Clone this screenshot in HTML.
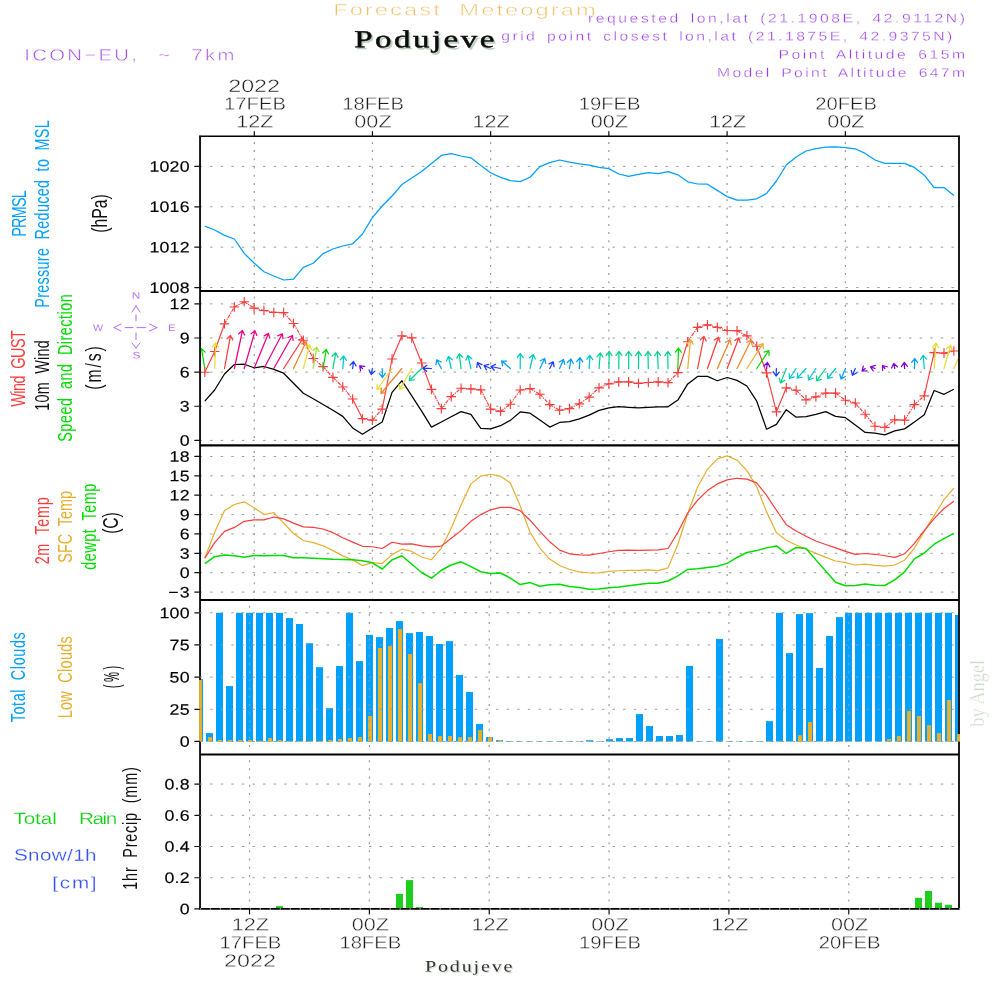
<!DOCTYPE html>
<html><head><meta charset="utf-8"><title>Forecast Meteogram Podujeve</title>
<style>html,body{margin:0;padding:0;background:#fff}svg{display:block}</style></head>
<body>
<svg width="1000" height="1000" viewBox="0 0 1000 1000">
<rect width="1000" height="1000" fill="#fff"/>
<defs>
<clipPath id="cp0"><rect x="199.05" y="136.25" width="760.95" height="154.70"/></clipPath>
<clipPath id="cp1"><rect x="199.05" y="290.95" width="760.95" height="154.40"/></clipPath>
<clipPath id="cp2"><rect x="199.05" y="445.35" width="760.95" height="154.65"/></clipPath>
<clipPath id="cp3"><rect x="199.05" y="600.00" width="760.95" height="154.50"/></clipPath>
<clipPath id="cp4"><rect x="199.05" y="754.50" width="760.95" height="154.45"/></clipPath>
<clipPath id="cpin1"><rect x="200.05" y="290.95" width="757.95" height="154.40"/></clipPath>
</defs>
<line x1="199.55" y1="166.40" x2="958.00" y2="166.40" stroke="#9a9a9a" stroke-width="1" stroke-dasharray="2.4 8.19"/>
<line x1="199.55" y1="206.78" x2="958.00" y2="206.78" stroke="#9a9a9a" stroke-width="1" stroke-dasharray="2.4 8.19"/>
<line x1="199.55" y1="247.17" x2="958.00" y2="247.17" stroke="#9a9a9a" stroke-width="1" stroke-dasharray="2.4 8.19"/>
<line x1="199.55" y1="287.55" x2="958.00" y2="287.55" stroke="#9a9a9a" stroke-width="1" stroke-dasharray="2.4 8.19"/>
<line x1="254.30" y1="141.90" x2="254.30" y2="289.95" stroke="#9a9a9a" stroke-width="1.2" stroke-dasharray="2 6.2"/>
<line x1="372.45" y1="141.90" x2="372.45" y2="289.95" stroke="#9a9a9a" stroke-width="1.2" stroke-dasharray="2 6.2"/>
<line x1="490.65" y1="141.90" x2="490.65" y2="289.95" stroke="#9a9a9a" stroke-width="1.2" stroke-dasharray="2 6.2"/>
<line x1="608.85" y1="141.90" x2="608.85" y2="289.95" stroke="#9a9a9a" stroke-width="1.2" stroke-dasharray="2 6.2"/>
<line x1="727.10" y1="141.90" x2="727.10" y2="289.95" stroke="#9a9a9a" stroke-width="1.2" stroke-dasharray="2 6.2"/>
<line x1="845.35" y1="141.90" x2="845.35" y2="289.95" stroke="#9a9a9a" stroke-width="1.2" stroke-dasharray="2 6.2"/>
<polyline points="204.80,226.20 214.66,230.00 224.51,235.40 234.37,239.00 244.22,253.40 254.08,263.00 263.94,271.80 273.79,276.00 283.65,280.00 293.50,279.20 303.36,267.40 313.22,263.20 323.07,253.60 332.93,249.00 342.78,246.00 352.64,243.80 362.50,234.00 372.35,217.60 382.21,206.00 392.06,196.00 401.92,184.60 411.78,178.00 421.63,171.60 431.49,163.40 441.34,155.40 451.20,153.60 461.06,156.00 470.91,157.80 480.77,165.60 490.62,172.80 500.48,177.40 510.34,180.60 520.19,181.60 530.05,177.20 539.90,166.60 549.76,162.60 559.62,160.00 569.47,162.20 579.33,163.80 589.18,165.20 599.04,167.40 608.90,168.60 618.75,174.00 628.61,176.40 638.46,174.40 648.32,172.60 658.18,173.60 668.03,171.60 677.89,174.80 687.74,181.80 697.60,184.00 707.46,184.20 717.31,190.40 727.17,196.60 737.02,200.20 746.88,200.20 756.74,198.80 766.59,193.40 776.45,181.00 786.30,165.00 796.16,157.00 806.02,151.00 815.87,148.60 825.73,147.20 835.58,146.80 845.44,147.60 855.30,148.80 865.15,153.40 875.01,160.00 884.86,163.40 894.72,163.40 904.58,163.40 914.43,167.40 924.29,175.20 934.14,187.60 944.00,187.60 953.86,195.40" fill="none" stroke="#00a0ff" stroke-width="1.25" stroke-linejoin="round" clip-path="url(#cp0)"/>
<line x1="199.55" y1="440.40" x2="958.00" y2="440.40" stroke="#9a9a9a" stroke-width="1" stroke-dasharray="2.4 8.19"/>
<line x1="199.55" y1="406.26" x2="958.00" y2="406.26" stroke="#9a9a9a" stroke-width="1" stroke-dasharray="2.4 8.19"/>
<line x1="199.55" y1="372.13" x2="958.00" y2="372.13" stroke="#9a9a9a" stroke-width="1" stroke-dasharray="2.4 8.19"/>
<line x1="199.55" y1="337.99" x2="958.00" y2="337.99" stroke="#9a9a9a" stroke-width="1" stroke-dasharray="2.4 8.19"/>
<line x1="199.55" y1="303.85" x2="958.00" y2="303.85" stroke="#9a9a9a" stroke-width="1" stroke-dasharray="2.4 8.19"/>
<line x1="254.30" y1="296.60" x2="254.30" y2="444.35" stroke="#9a9a9a" stroke-width="1.2" stroke-dasharray="2 6.2"/>
<line x1="372.45" y1="296.60" x2="372.45" y2="444.35" stroke="#9a9a9a" stroke-width="1.2" stroke-dasharray="2 6.2"/>
<line x1="490.65" y1="296.60" x2="490.65" y2="444.35" stroke="#9a9a9a" stroke-width="1.2" stroke-dasharray="2 6.2"/>
<line x1="608.85" y1="296.60" x2="608.85" y2="444.35" stroke="#9a9a9a" stroke-width="1.2" stroke-dasharray="2 6.2"/>
<line x1="727.10" y1="296.60" x2="727.10" y2="444.35" stroke="#9a9a9a" stroke-width="1.2" stroke-dasharray="2 6.2"/>
<line x1="845.35" y1="296.60" x2="845.35" y2="444.35" stroke="#9a9a9a" stroke-width="1.2" stroke-dasharray="2 6.2"/>
<g clip-path="url(#cpin1)">
<polyline points="204.80,401.20 214.66,390.00 224.51,374.00 234.37,364.56 244.22,364.24 254.08,367.76 263.94,366.48 273.79,369.36 283.65,373.20 293.50,383.28 303.36,393.20 313.22,398.80 323.07,404.56 332.93,410.32 342.78,416.40 352.64,427.92 362.50,434.32 372.35,427.92 382.21,422.00 392.06,392.40 401.92,380.72 411.78,395.92 421.63,411.12 431.49,427.12 441.34,422.00 451.20,416.72 461.06,411.60 470.91,414.32 480.77,428.40 490.62,428.88 500.48,425.68 510.34,420.40 520.19,411.92 530.05,413.20 539.90,419.92 549.76,427.12 559.62,422.48 569.47,421.68 579.33,418.80 589.18,415.12 599.04,410.32 608.90,407.92 618.75,406.64 628.61,407.28 638.46,407.92 648.32,407.28 658.18,406.80 668.03,406.80 677.89,400.08 687.74,383.92 697.60,376.40 707.46,376.40 717.31,380.72 727.17,377.52 737.02,380.40 746.88,386.00 756.74,401.20 766.59,429.20 776.45,424.40 786.30,409.68 796.16,417.20 806.02,416.72 815.87,414.32 825.73,411.60 835.58,416.40 845.44,417.68 855.30,424.88 865.15,432.40 875.01,433.20 884.86,434.80 894.72,430.80 904.58,428.88 914.43,422.00 924.29,414.80 934.14,390.48 944.00,394.32 953.86,389.20" fill="none" stroke="#000" stroke-width="1.25" stroke-linejoin="round"/>
<path d="M204.80 372.28L214.66 351.48M214.66 351.48L224.51 323.80M352.64 399.00L362.50 418.68M382.21 409.08L392.06 359.00M392.06 359.00L401.92 335.80M411.78 337.88L421.63 363.00M421.63 363.00L431.49 389.40M677.89 372.60L687.74 341.72M756.74 346.20L766.59 372.92M766.59 372.92L776.45 411.80M776.45 411.80L786.30 387.80M924.29 395.80L934.14 352.60" fill="none" stroke="#fa3c3c" stroke-width="1.15"/>
<path d="M224.51 323.80L234.37 307.00M234.37 307.00L244.22 301.72M244.22 301.72L254.08 308.12M254.08 308.12L263.94 310.52M263.94 310.52L273.79 312.44M273.79 312.44L283.65 312.60M283.65 312.60L293.50 323.48M293.50 323.48L303.36 340.28M303.36 340.28L313.22 358.52M313.22 358.52L323.07 366.68M323.07 366.68L332.93 377.40M332.93 377.40L342.78 387.00M342.78 387.00L352.64 399.00M362.50 418.68L372.35 420.12M372.35 420.12L382.21 409.08M401.92 335.80L411.78 337.88M431.49 389.40L441.34 408.60M441.34 408.60L451.20 396.60M451.20 396.60L461.06 388.28M461.06 388.28L470.91 388.92M470.91 388.92L480.77 389.88M480.77 389.88L490.62 409.08M490.62 409.08L500.48 411.32M500.48 411.32L510.34 404.28M510.34 404.28L520.19 390.04M520.19 390.04L530.05 388.60M530.05 388.60L539.90 394.20M539.90 394.20L549.76 404.60M549.76 404.60L559.62 410.20M559.62 410.20L569.47 408.60M569.47 408.60L579.33 403.80M579.33 403.80L589.18 397.08M589.18 397.08L599.04 387.80M599.04 387.80L608.90 383.80M608.90 383.80L618.75 381.88M618.75 381.88L628.61 381.88M628.61 381.88L638.46 383.32M638.46 383.32L648.32 382.52M648.32 382.52L658.18 381.88M658.18 381.88L668.03 382.68M668.03 382.68L677.89 372.60M687.74 341.72L697.60 327.32M697.60 327.32L707.46 324.92M707.46 324.92L717.31 327.32M717.31 327.32L727.17 330.52M727.17 330.52L737.02 330.68M737.02 330.68L746.88 335.80M746.88 335.80L756.74 346.20M786.30 387.80L796.16 390.20M796.16 390.20L806.02 399.80M806.02 399.80L815.87 396.92M815.87 396.92L825.73 393.08M825.73 393.08L835.58 393.08M835.58 393.08L845.44 400.28M845.44 400.28L855.30 403.00M855.30 403.00L865.15 414.20M865.15 414.20L875.01 426.20M875.01 426.20L884.86 427.48M884.86 427.48L894.72 419.80M894.72 419.80L904.58 420.12M904.58 420.12L914.43 404.60M914.43 404.60L924.29 395.80M934.14 352.60L944.00 353.08M944.00 353.08L953.86 351.00" fill="none" stroke="#fa3c3c" stroke-width="1.15" stroke-dasharray="3.7 1 1.3 1"/>
<path d="M200.00 372.28h9.6M204.80 367.48v9.6M209.86 351.48h9.6M214.66 346.68v9.6M219.71 323.80h9.6M224.51 319.00v9.6M229.57 307.00h9.6M234.37 302.20v9.6M239.42 301.72h9.6M244.22 296.92v9.6M249.28 308.12h9.6M254.08 303.32v9.6M259.14 310.52h9.6M263.94 305.72v9.6M268.99 312.44h9.6M273.79 307.64v9.6M278.85 312.60h9.6M283.65 307.80v9.6M288.70 323.48h9.6M293.50 318.68v9.6M298.56 340.28h9.6M303.36 335.48v9.6M308.42 358.52h9.6M313.22 353.72v9.6M318.27 366.68h9.6M323.07 361.88v9.6M328.13 377.40h9.6M332.93 372.60v9.6M337.98 387.00h9.6M342.78 382.20v9.6M347.84 399.00h9.6M352.64 394.20v9.6M357.70 418.68h9.6M362.50 413.88v9.6M367.55 420.12h9.6M372.35 415.32v9.6M377.41 409.08h9.6M382.21 404.28v9.6M387.26 359.00h9.6M392.06 354.20v9.6M397.12 335.80h9.6M401.92 331.00v9.6M406.98 337.88h9.6M411.78 333.08v9.6M416.83 363.00h9.6M421.63 358.20v9.6M426.69 389.40h9.6M431.49 384.60v9.6M436.54 408.60h9.6M441.34 403.80v9.6M446.40 396.60h9.6M451.20 391.80v9.6M456.26 388.28h9.6M461.06 383.48v9.6M466.11 388.92h9.6M470.91 384.12v9.6M475.97 389.88h9.6M480.77 385.08v9.6M485.82 409.08h9.6M490.62 404.28v9.6M495.68 411.32h9.6M500.48 406.52v9.6M505.54 404.28h9.6M510.34 399.48v9.6M515.39 390.04h9.6M520.19 385.24v9.6M525.25 388.60h9.6M530.05 383.80v9.6M535.10 394.20h9.6M539.90 389.40v9.6M544.96 404.60h9.6M549.76 399.80v9.6M554.82 410.20h9.6M559.62 405.40v9.6M564.67 408.60h9.6M569.47 403.80v9.6M574.53 403.80h9.6M579.33 399.00v9.6M584.38 397.08h9.6M589.18 392.28v9.6M594.24 387.80h9.6M599.04 383.00v9.6M604.10 383.80h9.6M608.90 379.00v9.6M613.95 381.88h9.6M618.75 377.08v9.6M623.81 381.88h9.6M628.61 377.08v9.6M633.66 383.32h9.6M638.46 378.52v9.6M643.52 382.52h9.6M648.32 377.72v9.6M653.38 381.88h9.6M658.18 377.08v9.6M663.23 382.68h9.6M668.03 377.88v9.6M673.09 372.60h9.6M677.89 367.80v9.6M682.94 341.72h9.6M687.74 336.92v9.6M692.80 327.32h9.6M697.60 322.52v9.6M702.66 324.92h9.6M707.46 320.12v9.6M712.51 327.32h9.6M717.31 322.52v9.6M722.37 330.52h9.6M727.17 325.72v9.6M732.22 330.68h9.6M737.02 325.88v9.6M742.08 335.80h9.6M746.88 331.00v9.6M751.94 346.20h9.6M756.74 341.40v9.6M761.79 372.92h9.6M766.59 368.12v9.6M771.65 411.80h9.6M776.45 407.00v9.6M781.50 387.80h9.6M786.30 383.00v9.6M791.36 390.20h9.6M796.16 385.40v9.6M801.22 399.80h9.6M806.02 395.00v9.6M811.07 396.92h9.6M815.87 392.12v9.6M820.93 393.08h9.6M825.73 388.28v9.6M830.78 393.08h9.6M835.58 388.28v9.6M840.64 400.28h9.6M845.44 395.48v9.6M850.50 403.00h9.6M855.30 398.20v9.6M860.35 414.20h9.6M865.15 409.40v9.6M870.21 426.20h9.6M875.01 421.40v9.6M880.06 427.48h9.6M884.86 422.68v9.6M889.92 419.80h9.6M894.72 415.00v9.6M899.78 420.12h9.6M904.58 415.32v9.6M909.63 404.60h9.6M914.43 399.80v9.6M919.49 395.80h9.6M924.29 391.00v9.6M929.34 352.60h9.6M934.14 347.80v9.6M939.20 353.08h9.6M944.00 348.28v9.6M949.06 351.00h9.6M953.86 346.20v9.6" fill="none" stroke="#fa3c3c" stroke-width="1.15"/>
<path d="M204.80 368.50L201.50 348.70L205.11 352.16M201.50 348.70L199.21 353.14" fill="none" stroke="#00dc00" stroke-width="1.25" stroke-linecap="round" stroke-linejoin="round"/>
<path d="M214.66 368.50L215.66 343.00L218.49 347.12M215.66 343.00L212.51 346.89" fill="none" stroke="#e6dc32" stroke-width="1.25" stroke-linecap="round" stroke-linejoin="round"/>
<path d="M224.51 368.50L230.51 335.50L232.74 339.98M230.51 335.50L226.85 338.91" fill="none" stroke="#fa3c3c" stroke-width="1.25" stroke-linecap="round" stroke-linejoin="round"/>
<path d="M234.37 368.50L242.47 330.50L244.56 335.04M242.47 330.50L238.71 333.79" fill="none" stroke="#f00082" stroke-width="1.25" stroke-linecap="round" stroke-linejoin="round"/>
<path d="M244.22 368.50L255.02 330.80L256.80 335.47M255.02 330.80L251.04 333.83" fill="none" stroke="#f00082" stroke-width="1.25" stroke-linecap="round" stroke-linejoin="round"/>
<path d="M254.08 368.50L268.48 333.30L269.73 338.14M268.48 333.30L264.19 335.87" fill="none" stroke="#f00082" stroke-width="1.25" stroke-linecap="round" stroke-linejoin="round"/>
<path d="M263.94 368.50L282.24 333.70L283.02 338.64M282.24 333.70L277.72 335.85" fill="none" stroke="#f00082" stroke-width="1.25" stroke-linecap="round" stroke-linejoin="round"/>
<path d="M273.79 368.50L292.49 335.50L293.12 340.46M292.49 335.50L287.91 337.51" fill="none" stroke="#f00082" stroke-width="1.25" stroke-linecap="round" stroke-linejoin="round"/>
<path d="M283.65 368.50L303.25 338.00L303.60 342.99M303.25 338.00L298.57 339.75" fill="none" stroke="#fa3c3c" stroke-width="1.25" stroke-linecap="round" stroke-linejoin="round"/>
<path d="M293.50 368.50L306.20 341.50L307.21 346.40M306.20 341.50L301.79 343.85" fill="none" stroke="#f08228" stroke-width="1.25" stroke-linecap="round" stroke-linejoin="round"/>
<path d="M303.36 368.50L309.66 345.00L311.51 349.64M309.66 345.00L305.73 348.09" fill="none" stroke="#e6dc32" stroke-width="1.25" stroke-linecap="round" stroke-linejoin="round"/>
<path d="M313.22 368.50L316.72 347.20L319.02 351.64M316.72 347.20L313.11 350.67" fill="none" stroke="#a0e632" stroke-width="1.25" stroke-linecap="round" stroke-linejoin="round"/>
<path d="M323.07 368.50L326.27 349.50L328.56 353.95M326.27 349.50L322.66 352.95" fill="none" stroke="#00dc00" stroke-width="1.25" stroke-linecap="round" stroke-linejoin="round"/>
<path d="M332.93 368.50L335.73 352.80L337.97 357.27M335.73 352.80L332.08 356.22" fill="none" stroke="#00d28c" stroke-width="1.25" stroke-linecap="round" stroke-linejoin="round"/>
<path d="M342.78 368.50L343.78 356.00L346.45 360.23M343.78 356.00L340.48 359.75" fill="none" stroke="#00c8c8" stroke-width="1.25" stroke-linecap="round" stroke-linejoin="round"/>
<path d="M352.64 368.50L353.54 361.50L356.00 365.85M353.54 361.50L350.06 365.09" fill="none" stroke="#1e3cff" stroke-width="1.25" stroke-linecap="round" stroke-linejoin="round"/>
<path d="M362.50 368.50L359.70 365.80L364.66 366.43M359.70 365.80L360.50 370.73" fill="none" stroke="#8200dc" stroke-width="1.25" stroke-linecap="round" stroke-linejoin="round"/>
<path d="M372.35 368.50L371.25 374.50L369.03 370.02M371.25 374.50L374.92 371.10" fill="none" stroke="#1e3cff" stroke-width="1.25" stroke-linecap="round" stroke-linejoin="round"/>
<path d="M382.21 368.50L382.51 377.50L379.38 373.60M382.51 377.50L385.37 373.40" fill="none" stroke="#00a0ff" stroke-width="1.25" stroke-linecap="round" stroke-linejoin="round"/>
<path d="M392.06 368.50L377.16 389.50L377.04 384.50M377.16 389.50L381.92 387.96" fill="none" stroke="#e6dc32" stroke-width="1.25" stroke-linecap="round" stroke-linejoin="round"/>
<path d="M401.92 368.50L381.02 393.50L381.29 388.51M381.02 393.50L385.89 392.35" fill="none" stroke="#f08228" stroke-width="1.25" stroke-linecap="round" stroke-linejoin="round"/>
<path d="M411.78 368.50L399.68 389.30L399.10 384.33M399.68 389.30L404.28 387.34" fill="none" stroke="#e6dc32" stroke-width="1.25" stroke-linecap="round" stroke-linejoin="round"/>
<path d="M421.63 368.50L409.33 380.50L410.11 375.56M409.33 380.50L414.29 379.84" fill="none" stroke="#00d28c" stroke-width="1.25" stroke-linecap="round" stroke-linejoin="round"/>
<path d="M431.49 368.50L422.79 368.20L426.89 365.35M422.79 368.20L426.69 371.33" fill="none" stroke="#1e3cff" stroke-width="1.25" stroke-linecap="round" stroke-linejoin="round"/>
<path d="M441.34 368.50L436.74 359.80L441.26 361.94M436.74 359.80L435.97 364.74" fill="none" stroke="#00a0ff" stroke-width="1.25" stroke-linecap="round" stroke-linejoin="round"/>
<path d="M451.20 368.50L448.50 356.50L452.30 359.75M448.50 356.50L446.46 361.06" fill="none" stroke="#00c8c8" stroke-width="1.25" stroke-linecap="round" stroke-linejoin="round"/>
<path d="M461.06 368.50L459.26 353.80L462.71 357.41M459.26 353.80L456.77 358.14" fill="none" stroke="#00d28c" stroke-width="1.25" stroke-linecap="round" stroke-linejoin="round"/>
<path d="M470.91 368.50L468.01 355.50L471.80 358.76M468.01 355.50L465.96 360.06" fill="none" stroke="#00c8c8" stroke-width="1.25" stroke-linecap="round" stroke-linejoin="round"/>
<path d="M480.77 368.50L477.47 362.50L482.02 364.57M477.47 362.50L476.78 367.45" fill="none" stroke="#1e3cff" stroke-width="1.25" stroke-linecap="round" stroke-linejoin="round"/>
<path d="M490.62 368.50L484.02 365.50L488.91 364.43M484.02 365.50L486.43 369.88" fill="none" stroke="#1e3cff" stroke-width="1.25" stroke-linecap="round" stroke-linejoin="round"/>
<path d="M500.48 368.50L490.98 366.50L495.52 364.40M490.98 366.50L494.28 370.25" fill="none" stroke="#1e3cff" stroke-width="1.25" stroke-linecap="round" stroke-linejoin="round"/>
<path d="M510.34 368.50L501.54 360.80L506.52 361.19M501.54 360.80L502.58 365.69" fill="none" stroke="#00a0ff" stroke-width="1.25" stroke-linecap="round" stroke-linejoin="round"/>
<path d="M520.19 368.50L520.29 353.50L523.26 357.53M520.29 353.50L517.27 357.49" fill="none" stroke="#00c8c8" stroke-width="1.25" stroke-linecap="round" stroke-linejoin="round"/>
<path d="M530.05 368.50L533.25 354.50L535.27 359.07M533.25 354.50L529.44 357.74" fill="none" stroke="#00c8c8" stroke-width="1.25" stroke-linecap="round" stroke-linejoin="round"/>
<path d="M539.90 368.50L544.80 358.50L545.73 363.41M544.80 358.50L540.35 360.78" fill="none" stroke="#00a0ff" stroke-width="1.25" stroke-linecap="round" stroke-linejoin="round"/>
<path d="M549.76 368.50L553.26 361.80L554.06 366.74M553.26 361.80L548.75 363.96" fill="none" stroke="#1e3cff" stroke-width="1.25" stroke-linecap="round" stroke-linejoin="round"/>
<path d="M559.62 368.50L563.52 359.50L564.67 364.37M563.52 359.50L559.18 361.99" fill="none" stroke="#00a0ff" stroke-width="1.25" stroke-linecap="round" stroke-linejoin="round"/>
<path d="M569.47 368.50L570.97 359.00L573.30 363.42M570.97 359.00L567.39 362.49" fill="none" stroke="#00a0ff" stroke-width="1.25" stroke-linecap="round" stroke-linejoin="round"/>
<path d="M579.33 368.50L580.03 357.70L582.76 361.89M580.03 357.70L576.78 361.50" fill="none" stroke="#00a0ff" stroke-width="1.25" stroke-linecap="round" stroke-linejoin="round"/>
<path d="M589.18 368.50L589.98 355.50L592.72 359.68M589.98 355.50L586.75 359.31" fill="none" stroke="#00c8c8" stroke-width="1.25" stroke-linecap="round" stroke-linejoin="round"/>
<path d="M599.04 368.50L600.34 352.80L602.99 357.04M600.34 352.80L597.03 356.55" fill="none" stroke="#00d28c" stroke-width="1.25" stroke-linecap="round" stroke-linejoin="round"/>
<path d="M608.90 368.50L609.20 351.50L612.12 355.56M609.20 351.50L606.13 355.45" fill="none" stroke="#00d28c" stroke-width="1.25" stroke-linecap="round" stroke-linejoin="round"/>
<path d="M618.75 368.50L618.95 351.30L621.90 355.34M618.95 351.30L615.91 355.27" fill="none" stroke="#00d28c" stroke-width="1.25" stroke-linecap="round" stroke-linejoin="round"/>
<path d="M628.61 368.50L628.81 351.50L631.75 355.54M628.81 351.50L625.77 355.47" fill="none" stroke="#00d28c" stroke-width="1.25" stroke-linecap="round" stroke-linejoin="round"/>
<path d="M638.46 368.50L638.66 351.50L641.61 355.54M638.66 351.50L635.62 355.47" fill="none" stroke="#00d28c" stroke-width="1.25" stroke-linecap="round" stroke-linejoin="round"/>
<path d="M648.32 368.50L647.92 351.50L651.01 355.43M647.92 351.50L645.02 355.57" fill="none" stroke="#00d28c" stroke-width="1.25" stroke-linecap="round" stroke-linejoin="round"/>
<path d="M658.18 368.50L657.48 351.50L660.63 355.38M657.48 351.50L654.65 355.63" fill="none" stroke="#00d28c" stroke-width="1.25" stroke-linecap="round" stroke-linejoin="round"/>
<path d="M668.03 368.50L667.73 351.50L670.79 355.45M667.73 351.50L664.81 355.56" fill="none" stroke="#00d28c" stroke-width="1.25" stroke-linecap="round" stroke-linejoin="round"/>
<path d="M677.89 368.50L678.49 348.20L681.36 352.29M678.49 348.20L675.38 352.12" fill="none" stroke="#00dc00" stroke-width="1.25" stroke-linecap="round" stroke-linejoin="round"/>
<path d="M687.74 368.50L690.54 339.80L693.13 344.08M690.54 339.80L687.18 343.50" fill="none" stroke="#e6af2d" stroke-width="1.25" stroke-linecap="round" stroke-linejoin="round"/>
<path d="M697.60 368.50L704.00 336.50L706.15 341.01M704.00 336.50L700.28 339.84" fill="none" stroke="#fa3c3c" stroke-width="1.25" stroke-linecap="round" stroke-linejoin="round"/>
<path d="M707.46 368.50L718.46 337.20L719.95 341.97M718.46 337.20L714.30 339.99" fill="none" stroke="#fa3c3c" stroke-width="1.25" stroke-linecap="round" stroke-linejoin="round"/>
<path d="M717.31 368.50L730.01 339.80L731.13 344.67M730.01 339.80L725.65 342.25" fill="none" stroke="#f08228" stroke-width="1.25" stroke-linecap="round" stroke-linejoin="round"/>
<path d="M727.17 368.50L738.87 337.80L740.24 342.61M738.87 337.80L734.65 340.48" fill="none" stroke="#fa3c3c" stroke-width="1.25" stroke-linecap="round" stroke-linejoin="round"/>
<path d="M737.02 368.50L751.22 340.00L752.12 344.92M751.22 340.00L746.76 342.25" fill="none" stroke="#f08228" stroke-width="1.25" stroke-linecap="round" stroke-linejoin="round"/>
<path d="M746.88 368.50L762.98 343.50L763.33 348.49M762.98 343.50L758.30 345.25" fill="none" stroke="#e6af2d" stroke-width="1.25" stroke-linecap="round" stroke-linejoin="round"/>
<path d="M756.74 368.50L768.84 350.50L769.08 355.49M768.84 350.50L764.12 352.16" fill="none" stroke="#00dc00" stroke-width="1.25" stroke-linecap="round" stroke-linejoin="round"/>
<path d="M766.59 368.50L767.49 362.50L769.86 366.91M767.49 362.50L763.94 366.02" fill="none" stroke="#8200dc" stroke-width="1.25" stroke-linecap="round" stroke-linejoin="round"/>
<path d="M776.45 368.50L776.05 376.00L773.27 371.84M776.05 376.00L779.25 372.16" fill="none" stroke="#1e3cff" stroke-width="1.25" stroke-linecap="round" stroke-linejoin="round"/>
<path d="M786.30 368.50L780.50 383.00L779.21 378.17M780.50 383.00L784.77 380.39" fill="none" stroke="#00d28c" stroke-width="1.25" stroke-linecap="round" stroke-linejoin="round"/>
<path d="M796.16 368.50L789.46 378.50L789.20 373.51M789.46 378.50L794.18 376.84" fill="none" stroke="#00c8c8" stroke-width="1.25" stroke-linecap="round" stroke-linejoin="round"/>
<path d="M806.02 368.50L797.22 378.20L797.69 373.22M797.22 378.20L802.12 377.24" fill="none" stroke="#00c8c8" stroke-width="1.25" stroke-linecap="round" stroke-linejoin="round"/>
<path d="M815.87 368.50L808.47 380.00L808.12 375.01M808.47 380.00L813.16 378.25" fill="none" stroke="#00c8c8" stroke-width="1.25" stroke-linecap="round" stroke-linejoin="round"/>
<path d="M825.73 368.50L816.53 380.80L816.53 375.80M816.53 380.80L821.32 379.38" fill="none" stroke="#00d28c" stroke-width="1.25" stroke-linecap="round" stroke-linejoin="round"/>
<path d="M835.58 368.50L827.48 378.50L827.68 373.50M827.48 378.50L832.33 377.27" fill="none" stroke="#00c8c8" stroke-width="1.25" stroke-linecap="round" stroke-linejoin="round"/>
<path d="M845.44 368.50L841.04 379.00L839.83 374.15M841.04 379.00L845.35 376.46" fill="none" stroke="#00a0ff" stroke-width="1.25" stroke-linecap="round" stroke-linejoin="round"/>
<path d="M855.30 368.50L852.50 375.30L851.25 370.46M852.50 375.30L856.79 372.74" fill="none" stroke="#1e3cff" stroke-width="1.25" stroke-linecap="round" stroke-linejoin="round"/>
<path d="M865.15 368.50L862.05 371.00L863.29 366.16M862.05 371.00L867.05 370.81" fill="none" stroke="#8200dc" stroke-width="1.25" stroke-linecap="round" stroke-linejoin="round"/>
<path d="M875.01 368.50L870.51 366.80L875.31 365.42M870.51 366.80L873.20 371.01" fill="none" stroke="#8200dc" stroke-width="1.25" stroke-linecap="round" stroke-linejoin="round"/>
<path d="M884.86 368.50L882.46 365.50L887.30 366.76M882.46 365.50L882.63 370.50" fill="none" stroke="#8200dc" stroke-width="1.25" stroke-linecap="round" stroke-linejoin="round"/>
<path d="M894.72 368.50L893.72 363.50L897.44 366.84M893.72 363.50L891.57 368.01" fill="none" stroke="#8200dc" stroke-width="1.25" stroke-linecap="round" stroke-linejoin="round"/>
<path d="M904.58 368.50L904.18 362.50L907.43 366.30M904.18 362.50L901.46 366.70" fill="none" stroke="#8200dc" stroke-width="1.25" stroke-linecap="round" stroke-linejoin="round"/>
<path d="M914.43 368.50L914.83 358.50L917.66 362.62M914.83 358.50L911.68 362.38" fill="none" stroke="#00a0ff" stroke-width="1.25" stroke-linecap="round" stroke-linejoin="round"/>
<path d="M924.29 368.50L923.19 355.30L926.50 359.04M923.19 355.30L920.54 359.54" fill="none" stroke="#00c8c8" stroke-width="1.25" stroke-linecap="round" stroke-linejoin="round"/>
<path d="M934.14 368.50L935.94 343.20L938.64 347.41M935.94 343.20L932.67 346.98" fill="none" stroke="#e6dc32" stroke-width="1.25" stroke-linecap="round" stroke-linejoin="round"/>
<path d="M944.00 368.50L950.50 345.50L952.29 350.17M950.50 345.50L946.53 348.54" fill="none" stroke="#e6dc32" stroke-width="1.25" stroke-linecap="round" stroke-linejoin="round"/>
<path d="M953.86 368.50L964.66 343.70L965.80 348.57M964.66 343.70L960.31 346.18" fill="none" stroke="#e6dc32" stroke-width="1.25" stroke-linecap="round" stroke-linejoin="round"/>
</g>
<line x1="199.55" y1="592.10" x2="958.00" y2="592.10" stroke="#9a9a9a" stroke-width="1" stroke-dasharray="2.4 8.19"/>
<line x1="199.55" y1="572.72" x2="958.00" y2="572.72" stroke="#9a9a9a" stroke-width="1" stroke-dasharray="2.4 8.19"/>
<line x1="199.55" y1="553.34" x2="958.00" y2="553.34" stroke="#9a9a9a" stroke-width="1" stroke-dasharray="2.4 8.19"/>
<line x1="199.55" y1="533.96" x2="958.00" y2="533.96" stroke="#9a9a9a" stroke-width="1" stroke-dasharray="2.4 8.19"/>
<line x1="199.55" y1="514.58" x2="958.00" y2="514.58" stroke="#9a9a9a" stroke-width="1" stroke-dasharray="2.4 8.19"/>
<line x1="199.55" y1="495.21" x2="958.00" y2="495.21" stroke="#9a9a9a" stroke-width="1" stroke-dasharray="2.4 8.19"/>
<line x1="199.55" y1="475.83" x2="958.00" y2="475.83" stroke="#9a9a9a" stroke-width="1" stroke-dasharray="2.4 8.19"/>
<line x1="199.55" y1="456.45" x2="958.00" y2="456.45" stroke="#9a9a9a" stroke-width="1" stroke-dasharray="2.4 8.19"/>
<line x1="254.30" y1="451.00" x2="254.30" y2="599.00" stroke="#9a9a9a" stroke-width="1.2" stroke-dasharray="2 6.2"/>
<line x1="372.45" y1="451.00" x2="372.45" y2="599.00" stroke="#9a9a9a" stroke-width="1.2" stroke-dasharray="2 6.2"/>
<line x1="490.65" y1="451.00" x2="490.65" y2="599.00" stroke="#9a9a9a" stroke-width="1.2" stroke-dasharray="2 6.2"/>
<line x1="608.85" y1="451.00" x2="608.85" y2="599.00" stroke="#9a9a9a" stroke-width="1.2" stroke-dasharray="2 6.2"/>
<line x1="727.10" y1="451.00" x2="727.10" y2="599.00" stroke="#9a9a9a" stroke-width="1.2" stroke-dasharray="2 6.2"/>
<line x1="845.35" y1="451.00" x2="845.35" y2="599.00" stroke="#9a9a9a" stroke-width="1.2" stroke-dasharray="2 6.2"/>
<polyline points="204.80,558.28 214.66,532.20 224.51,510.60 234.37,504.52 244.22,501.80 254.08,507.72 263.94,514.60 273.79,512.52 283.65,523.08 293.50,533.48 303.36,540.52 313.22,542.60 323.07,545.80 332.93,550.60 342.78,555.88 352.64,559.88 362.50,565.64 372.35,562.60 382.21,563.56 392.06,554.60 401.92,549.16 411.78,551.40 421.63,557.00 431.49,559.72 441.34,548.20 451.20,528.20 461.06,505.00 470.91,483.88 480.77,476.20 490.62,474.28 500.48,476.20 510.34,482.92 520.19,505.80 530.05,532.20 539.90,548.20 549.76,559.08 559.62,565.48 569.47,569.48 579.33,571.88 589.18,573.00 599.04,572.84 608.90,571.40 618.75,570.76 628.61,570.44 638.46,570.28 648.32,569.96 658.18,570.60 668.03,567.88 677.89,544.20 687.74,513.48 697.60,486.92 707.46,469.32 717.31,458.92 727.17,455.88 737.02,460.20 746.88,470.60 756.74,486.92 766.59,511.88 776.45,532.68 786.30,540.20 796.16,545.00 806.02,549.00 815.87,553.32 825.73,557.32 835.58,561.00 845.44,562.60 855.30,565.00 865.15,564.20 875.01,565.32 884.86,566.12 894.72,565.00 904.58,560.20 914.43,548.20 924.29,531.40 934.14,515.40 944.00,499.72 953.86,488.20" fill="none" stroke="#e6af2d" stroke-width="1.20" stroke-linejoin="round" clip-path="url(#cp2)"/>
<polyline points="204.80,558.28 214.66,542.60 224.51,531.40 234.37,527.40 244.22,521.32 254.08,519.88 263.94,519.88 273.79,517.00 283.65,518.92 293.50,523.08 303.36,526.92 313.22,527.40 323.07,529.00 332.93,532.68 342.78,537.80 352.64,542.12 362.50,546.28 372.35,546.76 382.21,548.52 392.06,542.28 401.92,544.20 411.78,543.88 421.63,545.80 431.49,546.92 441.34,546.12 451.20,538.28 461.06,530.60 470.91,521.32 480.77,514.60 490.62,509.80 500.48,507.40 510.34,507.40 520.19,510.60 530.05,520.20 539.90,531.40 549.76,541.80 559.62,550.12 569.47,553.80 579.33,554.92 589.18,555.08 599.04,553.48 608.90,551.72 618.75,550.44 628.61,550.12 638.46,550.44 648.32,550.12 658.18,549.80 668.03,548.52 677.89,532.20 687.74,513.00 697.60,500.20 707.46,490.60 717.31,483.88 727.17,479.88 737.02,478.28 746.88,479.08 756.74,482.92 766.59,495.40 776.45,510.28 786.30,524.68 796.16,531.08 806.02,536.20 815.87,541.00 825.73,544.52 835.58,547.88 845.44,551.40 855.30,554.44 865.15,553.48 875.01,554.28 884.86,555.72 894.72,557.32 904.58,553.80 914.43,543.40 924.29,530.60 934.14,518.60 944.00,508.52 953.86,501.32" fill="none" stroke="#fa3c3c" stroke-width="1.20" stroke-linejoin="round" clip-path="url(#cp2)"/>
<polyline points="204.80,563.72 214.66,556.68 224.51,555.08 234.37,555.72 244.22,557.32 254.08,555.40 263.94,555.72 273.79,555.56 283.65,555.56 293.50,557.80 303.36,557.80 313.22,558.28 323.07,558.76 332.93,559.24 342.78,559.40 352.64,559.72 362.50,560.68 372.35,562.76 382.21,569.00 392.06,559.88 401.92,555.72 411.78,564.20 421.63,572.52 431.49,578.12 441.34,570.28 451.20,565.00 461.06,561.80 470.91,566.60 480.77,571.72 490.62,573.48 500.48,573.00 510.34,578.12 520.19,584.52 530.05,582.60 539.90,586.28 549.76,584.68 559.62,584.20 569.47,586.60 579.33,587.40 589.18,589.32 599.04,589.00 608.90,587.72 618.75,586.92 628.61,585.80 638.46,584.52 648.32,583.24 658.18,583.24 668.03,581.00 677.89,575.88 687.74,569.48 697.60,568.68 707.46,567.40 717.31,566.28 727.17,563.40 737.02,557.48 746.88,552.52 756.74,550.60 766.59,547.88 776.45,545.96 786.30,553.48 796.16,547.40 806.02,548.52 815.87,559.88 825.73,571.08 835.58,582.28 845.44,585.80 855.30,585.48 865.15,584.04 875.01,585.32 884.86,585.48 894.72,579.88 904.58,571.88 914.43,558.92 924.29,553.00 934.14,544.20 944.00,538.60 953.86,533.32" fill="none" stroke="#00dc00" stroke-width="1.50" stroke-linejoin="round" clip-path="url(#cp2)"/>
<g clip-path="url(#cp3)">
<rect x="196" y="679.20" width="7" height="62.40" fill="#00a0ff"/>
<rect x="206" y="733.12" width="7" height="8.48" fill="#00a0ff"/>
<rect x="216" y="612.80" width="7" height="128.80" fill="#00a0ff"/>
<rect x="226" y="686.08" width="7" height="55.52" fill="#00a0ff"/>
<rect x="236" y="612.80" width="7" height="128.80" fill="#00a0ff"/>
<rect x="246" y="612.80" width="7" height="128.80" fill="#00a0ff"/>
<rect x="256" y="612.80" width="7" height="128.80" fill="#00a0ff"/>
<rect x="266" y="612.80" width="7" height="128.80" fill="#00a0ff"/>
<rect x="276" y="612.80" width="7" height="128.80" fill="#00a0ff"/>
<rect x="286" y="618.08" width="7" height="123.52" fill="#00a0ff"/>
<rect x="296" y="624.00" width="7" height="117.60" fill="#00a0ff"/>
<rect x="306" y="643.20" width="7" height="98.40" fill="#00a0ff"/>
<rect x="316" y="667.20" width="7" height="74.40" fill="#00a0ff"/>
<rect x="326" y="708.16" width="7" height="33.44" fill="#00a0ff"/>
<rect x="336" y="666.08" width="7" height="75.52" fill="#00a0ff"/>
<rect x="346" y="612.80" width="7" height="128.80" fill="#00a0ff"/>
<rect x="356" y="661.12" width="7" height="80.48" fill="#00a0ff"/>
<rect x="366" y="634.88" width="7" height="106.72" fill="#00a0ff"/>
<rect x="376" y="637.12" width="7" height="104.48" fill="#00a0ff"/>
<rect x="386" y="628.00" width="7" height="113.60" fill="#00a0ff"/>
<rect x="396" y="621.12" width="7" height="120.48" fill="#00a0ff"/>
<rect x="406" y="633.12" width="7" height="108.48" fill="#00a0ff"/>
<rect x="416" y="632.00" width="7" height="109.60" fill="#00a0ff"/>
<rect x="426" y="636.00" width="7" height="105.60" fill="#00a0ff"/>
<rect x="436" y="644.00" width="7" height="97.60" fill="#00a0ff"/>
<rect x="446" y="641.12" width="7" height="100.48" fill="#00a0ff"/>
<rect x="456" y="674.88" width="7" height="66.72" fill="#00a0ff"/>
<rect x="466" y="692.00" width="7" height="49.60" fill="#00a0ff"/>
<rect x="476" y="724.00" width="7" height="17.60" fill="#00a0ff"/>
<rect x="486" y="737.12" width="7" height="4.48" fill="#00a0ff"/>
<rect x="496" y="740.00" width="7" height="1.60" fill="#00a0ff"/>
<rect x="506" y="740.96" width="7" height="0.64" fill="#00a0ff"/>
<rect x="516" y="741.10" width="7" height="0.50" fill="#00a0ff"/>
<rect x="526" y="741.10" width="7" height="0.50" fill="#00a0ff"/>
<rect x="536" y="741.10" width="7" height="0.50" fill="#00a0ff"/>
<rect x="546" y="741.10" width="7" height="0.50" fill="#00a0ff"/>
<rect x="556" y="741.10" width="7" height="0.50" fill="#00a0ff"/>
<rect x="566" y="741.10" width="7" height="0.50" fill="#00a0ff"/>
<rect x="576" y="741.10" width="7" height="0.50" fill="#00a0ff"/>
<rect x="586" y="740.16" width="7" height="1.44" fill="#00a0ff"/>
<rect x="596" y="741.10" width="7" height="0.50" fill="#00a0ff"/>
<rect x="606" y="739.20" width="7" height="2.40" fill="#00a0ff"/>
<rect x="616" y="738.08" width="7" height="3.52" fill="#00a0ff"/>
<rect x="626" y="738.08" width="7" height="3.52" fill="#00a0ff"/>
<rect x="636" y="714.08" width="7" height="27.52" fill="#00a0ff"/>
<rect x="646" y="726.08" width="7" height="15.52" fill="#00a0ff"/>
<rect x="656" y="736.00" width="7" height="5.60" fill="#00a0ff"/>
<rect x="666" y="736.00" width="7" height="5.60" fill="#00a0ff"/>
<rect x="676" y="735.04" width="7" height="6.56" fill="#00a0ff"/>
<rect x="686" y="665.92" width="7" height="75.68" fill="#00a0ff"/>
<rect x="696" y="741.10" width="7" height="0.50" fill="#00a0ff"/>
<rect x="706" y="741.10" width="7" height="0.50" fill="#00a0ff"/>
<rect x="716" y="638.88" width="7" height="102.72" fill="#00a0ff"/>
<rect x="726" y="741.10" width="7" height="0.50" fill="#00a0ff"/>
<rect x="736" y="741.10" width="7" height="0.50" fill="#00a0ff"/>
<rect x="746" y="741.10" width="7" height="0.50" fill="#00a0ff"/>
<rect x="756" y="741.10" width="7" height="0.50" fill="#00a0ff"/>
<rect x="766" y="721.12" width="7" height="20.48" fill="#00a0ff"/>
<rect x="776" y="612.80" width="7" height="128.80" fill="#00a0ff"/>
<rect x="786" y="653.12" width="7" height="88.48" fill="#00a0ff"/>
<rect x="796" y="614.08" width="7" height="127.52" fill="#00a0ff"/>
<rect x="806" y="613.12" width="7" height="128.48" fill="#00a0ff"/>
<rect x="816" y="668.00" width="7" height="73.60" fill="#00a0ff"/>
<rect x="826" y="636.00" width="7" height="105.60" fill="#00a0ff"/>
<rect x="836" y="617.12" width="7" height="124.48" fill="#00a0ff"/>
<rect x="845" y="612.80" width="7" height="128.80" fill="#00a0ff"/>
<rect x="855" y="612.80" width="7" height="128.80" fill="#00a0ff"/>
<rect x="865" y="612.80" width="7" height="128.80" fill="#00a0ff"/>
<rect x="875" y="612.80" width="7" height="128.80" fill="#00a0ff"/>
<rect x="885" y="612.80" width="7" height="128.80" fill="#00a0ff"/>
<rect x="895" y="612.80" width="7" height="128.80" fill="#00a0ff"/>
<rect x="905" y="612.80" width="7" height="128.80" fill="#00a0ff"/>
<rect x="915" y="612.80" width="7" height="128.80" fill="#00a0ff"/>
<rect x="925" y="612.80" width="7" height="128.80" fill="#00a0ff"/>
<rect x="935" y="612.80" width="7" height="128.80" fill="#00a0ff"/>
<rect x="945" y="612.80" width="7" height="128.80" fill="#00a0ff"/>
<rect x="955" y="614.88" width="7" height="126.72" fill="#00a0ff"/>
</g>
<line x1="199.15" y1="136.25" x2="959.90" y2="136.25" stroke="#000" stroke-width="1.55"/>
<line x1="200.05" y1="135.75" x2="200.05" y2="909.75" stroke="#161616" stroke-width="1.95"/>
<line x1="959.00" y1="135.75" x2="959.00" y2="909.75" stroke="#161616" stroke-width="1.95"/>
<line x1="200.05" y1="290.95" x2="959.00" y2="290.95" stroke="#000" stroke-width="2.15"/>
<line x1="200.05" y1="445.35" x2="959.00" y2="445.35" stroke="#000" stroke-width="2.15"/>
<line x1="200.05" y1="600.00" x2="959.00" y2="600.00" stroke="#000" stroke-width="2.15"/>
<line x1="200.05" y1="754.50" x2="959.00" y2="754.50" stroke="#000" stroke-width="2.15"/>
<g clip-path="url(#cp3)">
<rect x="198" y="680.00" width="4" height="61.60" fill="#e6af2d"/>
<rect x="208" y="737.12" width="4" height="4.48" fill="#e6af2d"/>
<rect x="218" y="740.00" width="4" height="1.60" fill="#e6af2d"/>
<rect x="228" y="740.00" width="4" height="1.60" fill="#e6af2d"/>
<rect x="238" y="740.00" width="4" height="1.60" fill="#e6af2d"/>
<rect x="248" y="740.00" width="4" height="1.60" fill="#e6af2d"/>
<rect x="258" y="740.80" width="4" height="0.80" fill="#e6af2d"/>
<rect x="268" y="738.08" width="4" height="3.52" fill="#e6af2d"/>
<rect x="278" y="740.00" width="4" height="1.60" fill="#e6af2d"/>
<rect x="288" y="741.15" width="4" height="0.45" fill="#e6af2d"/>
<rect x="298" y="740.96" width="4" height="0.64" fill="#e6af2d"/>
<rect x="308" y="740.96" width="4" height="0.64" fill="#e6af2d"/>
<rect x="318" y="740.96" width="4" height="0.64" fill="#e6af2d"/>
<rect x="328" y="740.00" width="4" height="1.60" fill="#e6af2d"/>
<rect x="338" y="739.04" width="4" height="2.56" fill="#e6af2d"/>
<rect x="348" y="738.08" width="4" height="3.52" fill="#e6af2d"/>
<rect x="358" y="737.12" width="4" height="4.48" fill="#e6af2d"/>
<rect x="368" y="716.00" width="4" height="25.60" fill="#e6af2d"/>
<rect x="378" y="648.00" width="4" height="93.60" fill="#e6af2d"/>
<rect x="388" y="646.08" width="4" height="95.52" fill="#e6af2d"/>
<rect x="398" y="629.12" width="4" height="112.48" fill="#e6af2d"/>
<rect x="408" y="654.08" width="4" height="87.52" fill="#e6af2d"/>
<rect x="418" y="683.20" width="4" height="58.40" fill="#e6af2d"/>
<rect x="428" y="734.08" width="4" height="7.52" fill="#e6af2d"/>
<rect x="438" y="736.00" width="4" height="5.60" fill="#e6af2d"/>
<rect x="448" y="736.00" width="4" height="5.60" fill="#e6af2d"/>
<rect x="458" y="737.12" width="4" height="4.48" fill="#e6af2d"/>
<rect x="468" y="737.12" width="4" height="4.48" fill="#e6af2d"/>
<rect x="478" y="730.08" width="4" height="11.52" fill="#e6af2d"/>
<rect x="488" y="737.12" width="4" height="4.48" fill="#e6af2d"/>
<rect x="498" y="740.16" width="4" height="1.44" fill="#e6af2d"/>
<rect x="508" y="741.12" width="4" height="0.48" fill="#e6af2d"/>
<rect x="518" y="741.15" width="4" height="0.45" fill="#e6af2d"/>
<rect x="528" y="741.15" width="4" height="0.45" fill="#e6af2d"/>
<rect x="538" y="741.15" width="4" height="0.45" fill="#e6af2d"/>
<rect x="548" y="741.15" width="4" height="0.45" fill="#e6af2d"/>
<rect x="558" y="741.15" width="4" height="0.45" fill="#e6af2d"/>
<rect x="568" y="741.15" width="4" height="0.45" fill="#e6af2d"/>
<rect x="578" y="741.15" width="4" height="0.45" fill="#e6af2d"/>
<rect x="588" y="741.15" width="4" height="0.45" fill="#e6af2d"/>
<rect x="598" y="741.15" width="4" height="0.45" fill="#e6af2d"/>
<rect x="608" y="741.15" width="4" height="0.45" fill="#e6af2d"/>
<rect x="618" y="741.15" width="4" height="0.45" fill="#e6af2d"/>
<rect x="628" y="741.15" width="4" height="0.45" fill="#e6af2d"/>
<rect x="638" y="741.15" width="4" height="0.45" fill="#e6af2d"/>
<rect x="648" y="741.15" width="4" height="0.45" fill="#e6af2d"/>
<rect x="658" y="741.15" width="4" height="0.45" fill="#e6af2d"/>
<rect x="668" y="741.15" width="4" height="0.45" fill="#e6af2d"/>
<rect x="678" y="741.15" width="4" height="0.45" fill="#e6af2d"/>
<rect x="688" y="741.15" width="4" height="0.45" fill="#e6af2d"/>
<rect x="698" y="741.15" width="4" height="0.45" fill="#e6af2d"/>
<rect x="708" y="741.15" width="4" height="0.45" fill="#e6af2d"/>
<rect x="718" y="741.15" width="4" height="0.45" fill="#e6af2d"/>
<rect x="728" y="741.15" width="4" height="0.45" fill="#e6af2d"/>
<rect x="738" y="741.15" width="4" height="0.45" fill="#e6af2d"/>
<rect x="748" y="741.15" width="4" height="0.45" fill="#e6af2d"/>
<rect x="758" y="741.15" width="4" height="0.45" fill="#e6af2d"/>
<rect x="768" y="741.15" width="4" height="0.45" fill="#e6af2d"/>
<rect x="778" y="741.15" width="4" height="0.45" fill="#e6af2d"/>
<rect x="788" y="741.15" width="4" height="0.45" fill="#e6af2d"/>
<rect x="798" y="735.20" width="4" height="6.40" fill="#e6af2d"/>
<rect x="808" y="722.08" width="4" height="19.52" fill="#e6af2d"/>
<rect x="818" y="741.12" width="4" height="0.48" fill="#e6af2d"/>
<rect x="828" y="741.12" width="4" height="0.48" fill="#e6af2d"/>
<rect x="838" y="741.12" width="4" height="0.48" fill="#e6af2d"/>
<rect x="847" y="741.15" width="4" height="0.45" fill="#e6af2d"/>
<rect x="857" y="741.15" width="4" height="0.45" fill="#e6af2d"/>
<rect x="867" y="741.15" width="4" height="0.45" fill="#e6af2d"/>
<rect x="877" y="741.15" width="4" height="0.45" fill="#e6af2d"/>
<rect x="887" y="739.04" width="4" height="2.56" fill="#e6af2d"/>
<rect x="897" y="736.00" width="4" height="5.60" fill="#e6af2d"/>
<rect x="907" y="710.88" width="4" height="30.72" fill="#e6af2d"/>
<rect x="917" y="716.00" width="4" height="25.60" fill="#e6af2d"/>
<rect x="927" y="725.12" width="4" height="16.48" fill="#e6af2d"/>
<rect x="937" y="733.12" width="4" height="8.48" fill="#e6af2d"/>
<rect x="947" y="700.00" width="4" height="41.60" fill="#e6af2d"/>
<rect x="957" y="734.08" width="4" height="7.52" fill="#e6af2d"/>
</g>
<line x1="199.55" y1="741.45" x2="958.00" y2="741.45" stroke="#9a9a9a" stroke-width="1" stroke-dasharray="2.4 8.19"/>
<line x1="199.55" y1="709.29" x2="958.00" y2="709.29" stroke="#9a9a9a" stroke-width="1" stroke-dasharray="2.4 8.19"/>
<line x1="199.55" y1="677.12" x2="958.00" y2="677.12" stroke="#9a9a9a" stroke-width="1" stroke-dasharray="2.4 8.19"/>
<line x1="199.55" y1="644.96" x2="958.00" y2="644.96" stroke="#9a9a9a" stroke-width="1" stroke-dasharray="2.4 8.19"/>
<line x1="199.55" y1="612.80" x2="958.00" y2="612.80" stroke="#9a9a9a" stroke-width="1" stroke-dasharray="2.4 8.19"/>
<line x1="249.53" y1="605.65" x2="249.53" y2="753.50" stroke="#9a9a9a" stroke-width="1.2" stroke-dasharray="2 6.2"/>
<line x1="369.38" y1="605.65" x2="369.38" y2="753.50" stroke="#9a9a9a" stroke-width="1.2" stroke-dasharray="2 6.2"/>
<line x1="489.22" y1="605.65" x2="489.22" y2="753.50" stroke="#9a9a9a" stroke-width="1.2" stroke-dasharray="2 6.2"/>
<line x1="609.07" y1="605.65" x2="609.07" y2="753.50" stroke="#9a9a9a" stroke-width="1.2" stroke-dasharray="2 6.2"/>
<line x1="728.91" y1="605.65" x2="728.91" y2="753.50" stroke="#9a9a9a" stroke-width="1.2" stroke-dasharray="2 6.2"/>
<line x1="848.75" y1="605.65" x2="848.75" y2="753.50" stroke="#9a9a9a" stroke-width="1.2" stroke-dasharray="2 6.2"/>
<line x1="199.55" y1="877.73" x2="958.00" y2="877.73" stroke="#9a9a9a" stroke-width="1" stroke-dasharray="2.4 8.19"/>
<line x1="199.55" y1="846.51" x2="958.00" y2="846.51" stroke="#9a9a9a" stroke-width="1" stroke-dasharray="2.4 8.19"/>
<line x1="199.55" y1="815.29" x2="958.00" y2="815.29" stroke="#9a9a9a" stroke-width="1" stroke-dasharray="2.4 8.19"/>
<line x1="199.55" y1="784.07" x2="958.00" y2="784.07" stroke="#9a9a9a" stroke-width="1" stroke-dasharray="2.4 8.19"/>
<line x1="249.53" y1="760.15" x2="249.53" y2="907.95" stroke="#9a9a9a" stroke-width="1.2" stroke-dasharray="2 6.2"/>
<line x1="369.38" y1="760.15" x2="369.38" y2="907.95" stroke="#9a9a9a" stroke-width="1.2" stroke-dasharray="2 6.2"/>
<line x1="489.22" y1="760.15" x2="489.22" y2="907.95" stroke="#9a9a9a" stroke-width="1.2" stroke-dasharray="2 6.2"/>
<line x1="609.07" y1="760.15" x2="609.07" y2="907.95" stroke="#9a9a9a" stroke-width="1.2" stroke-dasharray="2 6.2"/>
<line x1="728.91" y1="760.15" x2="728.91" y2="907.95" stroke="#9a9a9a" stroke-width="1.2" stroke-dasharray="2 6.2"/>
<line x1="848.75" y1="760.15" x2="848.75" y2="907.95" stroke="#9a9a9a" stroke-width="1.2" stroke-dasharray="2 6.2"/>
<rect x="276" y="906.10" width="7" height="2.90" fill="#1ecd1e"/>
<rect x="396" y="893.90" width="7" height="15.10" fill="#1ecd1e"/>
<rect x="406" y="880.10" width="7" height="28.90" fill="#1ecd1e"/>
<rect x="416" y="907.10" width="7" height="1.90" fill="#1ecd1e"/>
<rect x="915" y="897.80" width="7" height="11.20" fill="#1ecd1e"/>
<rect x="925" y="891.00" width="7" height="18.00" fill="#1ecd1e"/>
<rect x="935" y="902.70" width="7" height="6.30" fill="#1ecd1e"/>
<rect x="945" y="904.80" width="7" height="4.20" fill="#1ecd1e"/>
<line x1="199.15" y1="908.95" x2="959.90" y2="908.95" stroke="#000" stroke-width="1.75"/>
<path d="M199.80 908.95h1.3M209.79 908.95h1.3M219.77 908.95h1.3M229.76 908.95h1.3M239.75 908.95h1.3M249.73 908.95h1.3M259.72 908.95h1.3M269.71 908.95h1.3M279.70 908.95h1.3M289.68 908.95h1.3M299.67 908.95h1.3M309.66 908.95h1.3M319.64 908.95h1.3M329.63 908.95h1.3M339.62 908.95h1.3M349.60 908.95h1.3M359.59 908.95h1.3M369.58 908.95h1.3M379.57 908.95h1.3M389.55 908.95h1.3M399.54 908.95h1.3M409.53 908.95h1.3M419.51 908.95h1.3M429.50 908.95h1.3M439.49 908.95h1.3M449.47 908.95h1.3M459.46 908.95h1.3M469.45 908.95h1.3M479.44 908.95h1.3M489.42 908.95h1.3M499.41 908.95h1.3M509.40 908.95h1.3M519.38 908.95h1.3M529.37 908.95h1.3M539.36 908.95h1.3M549.35 908.95h1.3M559.33 908.95h1.3M569.32 908.95h1.3M579.31 908.95h1.3M589.29 908.95h1.3M599.28 908.95h1.3M609.27 908.95h1.3M619.25 908.95h1.3M629.24 908.95h1.3M639.23 908.95h1.3M649.22 908.95h1.3M659.20 908.95h1.3M669.19 908.95h1.3M679.18 908.95h1.3M689.16 908.95h1.3M699.15 908.95h1.3M709.14 908.95h1.3M719.12 908.95h1.3M729.11 908.95h1.3M739.10 908.95h1.3M749.09 908.95h1.3M759.07 908.95h1.3M769.06 908.95h1.3M779.05 908.95h1.3M789.03 908.95h1.3M799.02 908.95h1.3M809.01 908.95h1.3M818.99 908.95h1.3M828.98 908.95h1.3M838.97 908.95h1.3M848.96 908.95h1.3M858.94 908.95h1.3M868.93 908.95h1.3M878.92 908.95h1.3M888.90 908.95h1.3M898.89 908.95h1.3M908.88 908.95h1.3M918.86 908.95h1.3M928.85 908.95h1.3M938.84 908.95h1.3M948.83 908.95h1.3M958.81 908.95h1.3" stroke="#8a8a8a" stroke-width="1.9" fill="none"/>
<path d="M194.8 166.40H199.3M194.8 206.78H199.3M194.8 247.17H199.3M194.8 287.55H199.3M194.8 440.40H199.3M194.8 406.26H199.3M194.8 372.13H199.3M194.8 337.99H199.3M194.8 303.85H199.3M194.8 592.10H199.3M194.8 572.72H199.3M194.8 553.34H199.3M194.8 533.96H199.3M194.8 514.58H199.3M194.8 495.21H199.3M194.8 475.83H199.3M194.8 456.45H199.3M194.8 741.45H199.3M194.8 709.29H199.3M194.8 677.12H199.3M194.8 644.96H199.3M194.8 612.80H199.3M194.8 908.95H199.3M194.8 877.73H199.3M194.8 846.51H199.3M194.8 815.29H199.3M194.8 784.07H199.3M254.30 131.6V136M372.45 131.6V136M490.65 131.6V136M608.85 131.6V136M727.10 131.6V136M845.35 131.6V136M249.53 909V914M369.38 909V914M489.22 909V914M609.07 909V914M728.91 909V914M848.75 909V914" stroke="#111" stroke-width="1.2" fill="none" stroke-linecap="round"/>
<text font-family='"Liberation Sans", sans-serif' font-size="15.20" fill="#000" text-anchor="end" textLength="34.38" lengthAdjust="spacing" transform="translate(189.60 171.75) rotate(0.03) scale(1.1700 1)" stroke="#000" stroke-width="0.15" xml:space="preserve">1020</text>
<text font-family='"Liberation Sans", sans-serif' font-size="15.20" fill="#000" text-anchor="end" textLength="34.38" lengthAdjust="spacing" transform="translate(189.60 212.13) rotate(0.03) scale(1.1700 1)" stroke="#000" stroke-width="0.15" xml:space="preserve">1016</text>
<text font-family='"Liberation Sans", sans-serif' font-size="15.20" fill="#000" text-anchor="end" textLength="34.38" lengthAdjust="spacing" transform="translate(189.60 252.52) rotate(0.03) scale(1.1700 1)" stroke="#000" stroke-width="0.15" xml:space="preserve">1012</text>
<text font-family='"Liberation Sans", sans-serif' font-size="15.20" fill="#000" text-anchor="end" textLength="34.38" lengthAdjust="spacing" transform="translate(189.60 292.90) rotate(0.03) scale(1.1700 1)" stroke="#000" stroke-width="0.15" xml:space="preserve">1008</text>
<text font-family='"Liberation Sans", sans-serif' font-size="15.20" fill="#000" text-anchor="end" textLength="8.60" lengthAdjust="spacing" transform="translate(189.60 445.75) rotate(0.03) scale(1.1700 1)" stroke="#000" stroke-width="0.15" xml:space="preserve">0</text>
<text font-family='"Liberation Sans", sans-serif' font-size="15.20" fill="#000" text-anchor="end" textLength="8.60" lengthAdjust="spacing" transform="translate(189.60 411.61) rotate(0.03) scale(1.1700 1)" stroke="#000" stroke-width="0.15" xml:space="preserve">3</text>
<text font-family='"Liberation Sans", sans-serif' font-size="15.20" fill="#000" text-anchor="end" textLength="8.60" lengthAdjust="spacing" transform="translate(189.60 377.48) rotate(0.03) scale(1.1700 1)" stroke="#000" stroke-width="0.15" xml:space="preserve">6</text>
<text font-family='"Liberation Sans", sans-serif' font-size="15.20" fill="#000" text-anchor="end" textLength="8.60" lengthAdjust="spacing" transform="translate(189.60 343.34) rotate(0.03) scale(1.1700 1)" stroke="#000" stroke-width="0.15" xml:space="preserve">9</text>
<text font-family='"Liberation Sans", sans-serif' font-size="15.20" fill="#000" text-anchor="end" textLength="17.19" lengthAdjust="spacing" transform="translate(189.60 309.20) rotate(0.03) scale(1.1700 1)" stroke="#000" stroke-width="0.15" xml:space="preserve">12</text>
<text font-family='"Liberation Sans", sans-serif' font-size="15.20" fill="#000" text-anchor="end" textLength="18.18" lengthAdjust="spacing" transform="translate(189.60 597.45) rotate(0.03) scale(1.1700 1)" stroke="#000" stroke-width="0.15" xml:space="preserve">−3</text>
<text font-family='"Liberation Sans", sans-serif' font-size="15.20" fill="#000" text-anchor="end" textLength="8.60" lengthAdjust="spacing" transform="translate(189.60 578.07) rotate(0.03) scale(1.1700 1)" stroke="#000" stroke-width="0.15" xml:space="preserve">0</text>
<text font-family='"Liberation Sans", sans-serif' font-size="15.20" fill="#000" text-anchor="end" textLength="8.60" lengthAdjust="spacing" transform="translate(189.60 558.69) rotate(0.03) scale(1.1700 1)" stroke="#000" stroke-width="0.15" xml:space="preserve">3</text>
<text font-family='"Liberation Sans", sans-serif' font-size="15.20" fill="#000" text-anchor="end" textLength="8.60" lengthAdjust="spacing" transform="translate(189.60 539.31) rotate(0.03) scale(1.1700 1)" stroke="#000" stroke-width="0.15" xml:space="preserve">6</text>
<text font-family='"Liberation Sans", sans-serif' font-size="15.20" fill="#000" text-anchor="end" textLength="8.60" lengthAdjust="spacing" transform="translate(189.60 519.93) rotate(0.03) scale(1.1700 1)" stroke="#000" stroke-width="0.15" xml:space="preserve">9</text>
<text font-family='"Liberation Sans", sans-serif' font-size="15.20" fill="#000" text-anchor="end" textLength="17.19" lengthAdjust="spacing" transform="translate(189.60 500.56) rotate(0.03) scale(1.1700 1)" stroke="#000" stroke-width="0.15" xml:space="preserve">12</text>
<text font-family='"Liberation Sans", sans-serif' font-size="15.20" fill="#000" text-anchor="end" textLength="17.19" lengthAdjust="spacing" transform="translate(189.60 481.18) rotate(0.03) scale(1.1700 1)" stroke="#000" stroke-width="0.15" xml:space="preserve">15</text>
<text font-family='"Liberation Sans", sans-serif' font-size="15.20" fill="#000" text-anchor="end" textLength="17.19" lengthAdjust="spacing" transform="translate(189.60 461.80) rotate(0.03) scale(1.1700 1)" stroke="#000" stroke-width="0.15" xml:space="preserve">18</text>
<text font-family='"Liberation Sans", sans-serif' font-size="15.20" fill="#000" text-anchor="end" textLength="8.60" lengthAdjust="spacing" transform="translate(189.60 746.80) rotate(0.03) scale(1.1700 1)" stroke="#000" stroke-width="0.15" xml:space="preserve">0</text>
<text font-family='"Liberation Sans", sans-serif' font-size="15.20" fill="#000" text-anchor="end" textLength="17.19" lengthAdjust="spacing" transform="translate(189.60 714.64) rotate(0.03) scale(1.1700 1)" stroke="#000" stroke-width="0.15" xml:space="preserve">25</text>
<text font-family='"Liberation Sans", sans-serif' font-size="15.20" fill="#000" text-anchor="end" textLength="17.19" lengthAdjust="spacing" transform="translate(189.60 682.48) rotate(0.03) scale(1.1700 1)" stroke="#000" stroke-width="0.15" xml:space="preserve">50</text>
<text font-family='"Liberation Sans", sans-serif' font-size="15.20" fill="#000" text-anchor="end" textLength="17.19" lengthAdjust="spacing" transform="translate(189.60 650.31) rotate(0.03) scale(1.1700 1)" stroke="#000" stroke-width="0.15" xml:space="preserve">75</text>
<text font-family='"Liberation Sans", sans-serif' font-size="15.20" fill="#000" text-anchor="end" textLength="25.79" lengthAdjust="spacing" transform="translate(189.60 618.15) rotate(0.03) scale(1.1700 1)" stroke="#000" stroke-width="0.15" xml:space="preserve">100</text>
<text font-family='"Liberation Sans", sans-serif' font-size="15.20" fill="#000" text-anchor="end" textLength="8.60" lengthAdjust="spacing" transform="translate(189.60 914.30) rotate(0.03) scale(1.1700 1)" stroke="#000" stroke-width="0.15" xml:space="preserve">0</text>
<text font-family='"Liberation Sans", sans-serif' font-size="15.20" fill="#000" text-anchor="end" textLength="21.49" lengthAdjust="spacing" transform="translate(189.60 883.08) rotate(0.03) scale(1.1700 1)" stroke="#000" stroke-width="0.15" xml:space="preserve">0.2</text>
<text font-family='"Liberation Sans", sans-serif' font-size="15.20" fill="#000" text-anchor="end" textLength="21.49" lengthAdjust="spacing" transform="translate(189.60 851.86) rotate(0.03) scale(1.1700 1)" stroke="#000" stroke-width="0.15" xml:space="preserve">0.4</text>
<text font-family='"Liberation Sans", sans-serif' font-size="15.20" fill="#000" text-anchor="end" textLength="21.49" lengthAdjust="spacing" transform="translate(189.60 820.64) rotate(0.03) scale(1.1700 1)" stroke="#000" stroke-width="0.15" xml:space="preserve">0.6</text>
<text font-family='"Liberation Sans", sans-serif' font-size="15.20" fill="#000" text-anchor="end" textLength="21.49" lengthAdjust="spacing" transform="translate(189.60 789.42) rotate(0.03) scale(1.1700 1)" stroke="#000" stroke-width="0.15" xml:space="preserve">0.8</text>
<text font-family='"Liberation Sans", sans-serif' font-size="17.90" fill="#1e1e1e" text-anchor="middle" textLength="37.30" lengthAdjust="spacingAndGlyphs" stroke="#fff" stroke-width="0.40" paint-order="fill stroke" transform="translate(254.80 127.60) rotate(0.03)"  xml:space="preserve">12Z</text>
<text font-family='"Liberation Sans", sans-serif' font-size="17.90" fill="#1e1e1e" text-anchor="middle" textLength="61.80" lengthAdjust="spacingAndGlyphs" stroke="#fff" stroke-width="0.40" paint-order="fill stroke" transform="translate(255.00 109.70) rotate(0.03)"  xml:space="preserve">17FEB</text>
<text font-family='"Liberation Sans", sans-serif' font-size="17.90" fill="#1e1e1e" text-anchor="middle" textLength="51.80" lengthAdjust="spacingAndGlyphs" stroke="#fff" stroke-width="0.40" paint-order="fill stroke" transform="translate(254.10 92.00) rotate(0.03)"  xml:space="preserve">2022</text>
<text font-family='"Liberation Sans", sans-serif' font-size="17.90" fill="#1e1e1e" text-anchor="middle" textLength="37.30" lengthAdjust="spacingAndGlyphs" stroke="#fff" stroke-width="0.40" paint-order="fill stroke" transform="translate(372.95 127.60) rotate(0.03)"  xml:space="preserve">00Z</text>
<text font-family='"Liberation Sans", sans-serif' font-size="17.90" fill="#1e1e1e" text-anchor="middle" textLength="61.80" lengthAdjust="spacingAndGlyphs" stroke="#fff" stroke-width="0.40" paint-order="fill stroke" transform="translate(373.15 109.70) rotate(0.03)"  xml:space="preserve">18FEB</text>
<text font-family='"Liberation Sans", sans-serif' font-size="17.90" fill="#1e1e1e" text-anchor="middle" textLength="37.30" lengthAdjust="spacingAndGlyphs" stroke="#fff" stroke-width="0.40" paint-order="fill stroke" transform="translate(491.15 127.60) rotate(0.03)"  xml:space="preserve">12Z</text>
<text font-family='"Liberation Sans", sans-serif' font-size="17.90" fill="#1e1e1e" text-anchor="middle" textLength="37.30" lengthAdjust="spacingAndGlyphs" stroke="#fff" stroke-width="0.40" paint-order="fill stroke" transform="translate(609.35 127.60) rotate(0.03)"  xml:space="preserve">00Z</text>
<text font-family='"Liberation Sans", sans-serif' font-size="17.90" fill="#1e1e1e" text-anchor="middle" textLength="61.80" lengthAdjust="spacingAndGlyphs" stroke="#fff" stroke-width="0.40" paint-order="fill stroke" transform="translate(609.55 109.70) rotate(0.03)"  xml:space="preserve">19FEB</text>
<text font-family='"Liberation Sans", sans-serif' font-size="17.90" fill="#1e1e1e" text-anchor="middle" textLength="37.30" lengthAdjust="spacingAndGlyphs" stroke="#fff" stroke-width="0.40" paint-order="fill stroke" transform="translate(727.60 127.60) rotate(0.03)"  xml:space="preserve">12Z</text>
<text font-family='"Liberation Sans", sans-serif' font-size="17.90" fill="#1e1e1e" text-anchor="middle" textLength="37.30" lengthAdjust="spacingAndGlyphs" stroke="#fff" stroke-width="0.40" paint-order="fill stroke" transform="translate(845.85 127.60) rotate(0.03)"  xml:space="preserve">00Z</text>
<text font-family='"Liberation Sans", sans-serif' font-size="17.90" fill="#1e1e1e" text-anchor="middle" textLength="61.80" lengthAdjust="spacingAndGlyphs" stroke="#fff" stroke-width="0.40" paint-order="fill stroke" transform="translate(846.05 109.70) rotate(0.03)"  xml:space="preserve">20FEB</text>
<text font-family='"Liberation Sans", sans-serif' font-size="17.90" fill="#1e1e1e" text-anchor="middle" textLength="37.30" lengthAdjust="spacingAndGlyphs" stroke="#fff" stroke-width="0.40" paint-order="fill stroke" transform="translate(250.44 930.40) rotate(0.03)"  xml:space="preserve">12Z</text>
<text font-family='"Liberation Sans", sans-serif' font-size="17.90" fill="#1e1e1e" text-anchor="middle" textLength="61.80" lengthAdjust="spacingAndGlyphs" stroke="#fff" stroke-width="0.40" paint-order="fill stroke" transform="translate(250.44 948.40) rotate(0.03)"  xml:space="preserve">17FEB</text>
<text font-family='"Liberation Sans", sans-serif' font-size="17.90" fill="#1e1e1e" text-anchor="middle" textLength="51.80" lengthAdjust="spacingAndGlyphs" stroke="#fff" stroke-width="0.40" paint-order="fill stroke" transform="translate(249.94 966.70) rotate(0.03)"  xml:space="preserve">2022</text>
<text font-family='"Liberation Sans", sans-serif' font-size="17.90" fill="#1e1e1e" text-anchor="middle" textLength="37.30" lengthAdjust="spacingAndGlyphs" stroke="#fff" stroke-width="0.40" paint-order="fill stroke" transform="translate(370.28 930.40) rotate(0.03)"  xml:space="preserve">00Z</text>
<text font-family='"Liberation Sans", sans-serif' font-size="17.90" fill="#1e1e1e" text-anchor="middle" textLength="61.80" lengthAdjust="spacingAndGlyphs" stroke="#fff" stroke-width="0.40" paint-order="fill stroke" transform="translate(370.28 948.40) rotate(0.03)"  xml:space="preserve">18FEB</text>
<text font-family='"Liberation Sans", sans-serif' font-size="17.90" fill="#1e1e1e" text-anchor="middle" textLength="37.30" lengthAdjust="spacingAndGlyphs" stroke="#fff" stroke-width="0.40" paint-order="fill stroke" transform="translate(490.12 930.40) rotate(0.03)"  xml:space="preserve">12Z</text>
<text font-family='"Liberation Sans", sans-serif' font-size="17.90" fill="#1e1e1e" text-anchor="middle" textLength="37.30" lengthAdjust="spacingAndGlyphs" stroke="#fff" stroke-width="0.40" paint-order="fill stroke" transform="translate(609.97 930.40) rotate(0.03)"  xml:space="preserve">00Z</text>
<text font-family='"Liberation Sans", sans-serif' font-size="17.90" fill="#1e1e1e" text-anchor="middle" textLength="61.80" lengthAdjust="spacingAndGlyphs" stroke="#fff" stroke-width="0.40" paint-order="fill stroke" transform="translate(609.97 948.40) rotate(0.03)"  xml:space="preserve">19FEB</text>
<text font-family='"Liberation Sans", sans-serif' font-size="17.90" fill="#1e1e1e" text-anchor="middle" textLength="37.30" lengthAdjust="spacingAndGlyphs" stroke="#fff" stroke-width="0.40" paint-order="fill stroke" transform="translate(729.81 930.40) rotate(0.03)"  xml:space="preserve">12Z</text>
<text font-family='"Liberation Sans", sans-serif' font-size="17.90" fill="#1e1e1e" text-anchor="middle" textLength="37.30" lengthAdjust="spacingAndGlyphs" stroke="#fff" stroke-width="0.40" paint-order="fill stroke" transform="translate(849.65 930.40) rotate(0.03)"  xml:space="preserve">00Z</text>
<text font-family='"Liberation Sans", sans-serif' font-size="17.90" fill="#1e1e1e" text-anchor="middle" textLength="61.80" lengthAdjust="spacingAndGlyphs" stroke="#fff" stroke-width="0.40" paint-order="fill stroke" transform="translate(849.65 948.40) rotate(0.03)"  xml:space="preserve">20FEB</text>
<text font-family='"Liberation Sans", sans-serif' font-size="16.40" fill="#f0c064" text-anchor="start" textLength="181.03" lengthAdjust="spacing" word-spacing="6.21" stroke="#fff" stroke-width="0.50" paint-order="fill stroke" transform="translate(333.20 15.30) rotate(0.03) scale(1.4500 1)"  xml:space="preserve">Forecast Meteogram</text>
<text font-family='"Liberation Serif", serif' font-size="24.60" fill="#bdd0bd" text-anchor="start" textLength="104.48" lengthAdjust="spacing" transform="translate(356.10 49.10) rotate(0.03) scale(1.3400 1)" stroke="#bdd0bd" stroke-width="0.5" xml:space="preserve">Podujeve</text>
<text font-family='"Liberation Serif", serif' font-size="24.60" fill="#0c0c0c" text-anchor="start" textLength="104.48" lengthAdjust="spacing" transform="translate(354.30 47.30) rotate(0.03) scale(1.3400 1)" stroke="#0c0c0c" stroke-width="0.5" xml:space="preserve">Podujeve</text>
<text font-family='"Liberation Sans", sans-serif' font-size="16.20" fill="#a550f0" text-anchor="start" textLength="168.00" lengthAdjust="spacing" word-spacing="8.80" stroke="#fff" stroke-width="0.45" paint-order="fill stroke" transform="translate(24.30 60.50) rotate(0.03) scale(1.2500 1)"  xml:space="preserve">ICON−EU, ~ 7km</text>
<text font-family='"Liberation Sans", sans-serif' font-size="12.70" fill="#9a3cec" text-anchor="end" textLength="304.03" lengthAdjust="spacing" word-spacing="2.42" stroke="#fff" stroke-width="0.30" paint-order="fill stroke" transform="translate(965.00 22.60) rotate(0.03) scale(1.2400 1)"  xml:space="preserve">requested lon,lat (21.1908E, 42.9112N)</text>
<text font-family='"Liberation Sans", sans-serif' font-size="12.70" fill="#9a3cec" text-anchor="end" textLength="363.71" lengthAdjust="spacing" word-spacing="2.42" stroke="#fff" stroke-width="0.30" paint-order="fill stroke" transform="translate(952.30 40.60) rotate(0.03) scale(1.2400 1)"  xml:space="preserve">grid point closest lon,lat (21.1875E, 42.9375N)</text>
<text font-family='"Liberation Sans", sans-serif' font-size="12.70" fill="#9a3cec" text-anchor="end" textLength="150.40" lengthAdjust="spacing" word-spacing="2.42" stroke="#fff" stroke-width="0.30" paint-order="fill stroke" transform="translate(965.00 58.80) rotate(0.03) scale(1.2400 1)"  xml:space="preserve">Point Altitude 615m</text>
<text font-family='"Liberation Sans", sans-serif' font-size="12.70" fill="#9a3cec" text-anchor="end" textLength="200.00" lengthAdjust="spacing" word-spacing="2.42" stroke="#fff" stroke-width="0.30" paint-order="fill stroke" transform="translate(965.00 77.00) rotate(0.03) scale(1.2400 1)"  xml:space="preserve">Model Point Altitude 647m</text>
<text font-family='"Liberation Serif", serif' font-size="16.00" fill="#d6e2d6" text-anchor="start" textLength="70.00" lengthAdjust="spacing" transform="translate(426.20 972.80) rotate(0.03) scale(1.2500 1)"  xml:space="preserve">Podujeve</text>
<text font-family='"Liberation Serif", serif' font-size="16.00" fill="#333" text-anchor="start" textLength="70.00" lengthAdjust="spacing" transform="translate(425.00 971.50) rotate(0.03) scale(1.2500 1)"  xml:space="preserve">Podujeve</text>
<text font-family='"Liberation Serif", serif' font-size="20.60" fill="#ccdacc" text-anchor="middle" textLength="67.00" lengthAdjust="spacingAndGlyphs" stroke="#fff" stroke-width="0.30" paint-order="fill stroke" transform="translate(984.00 693.30) rotate(-90.00)"  xml:space="preserve">by Angel</text>
<text font-family='"Liberation Sans", sans-serif' font-size="20.60" fill="#00a0ff" text-anchor="middle" textLength="66.43" lengthAdjust="spacing" word-spacing="5.71" transform="translate(25.60 213.50) rotate(-90.00) scale(0.7000 1)"  xml:space="preserve">PRMSL</text>
<text font-family='"Liberation Sans", sans-serif' font-size="20.60" fill="#00a0ff" text-anchor="middle" textLength="267.86" lengthAdjust="spacing" word-spacing="5.71" transform="translate(48.60 214.00) rotate(-90.00) scale(0.7000 1)"  xml:space="preserve">Pressure Reduced to MSL</text>
<text font-family='"Liberation Sans", sans-serif' font-size="22.50" fill="#111" text-anchor="middle" textLength="55.00" lengthAdjust="spacing" word-spacing="5.71" transform="translate(107.00 213.50) rotate(-90.00) scale(0.7000 1)"  xml:space="preserve">(hPa)</text>
<text font-family='"Liberation Sans", sans-serif' font-size="20.60" fill="#fa3c3c" text-anchor="middle" textLength="109.29" lengthAdjust="spacing" word-spacing="5.71" transform="translate(25.20 368.50) rotate(-90.00) scale(0.7000 1)"  xml:space="preserve">Wind GUST</text>
<text font-family='"Liberation Sans", sans-serif' font-size="20.60" fill="#111" text-anchor="middle" textLength="100.71" lengthAdjust="spacing" word-spacing="5.71" transform="translate(49.00 375.50) rotate(-90.00) scale(0.7000 1)"  xml:space="preserve">10m Wind</text>
<text font-family='"Liberation Sans", sans-serif' font-size="20.60" fill="#00dc00" text-anchor="middle" textLength="210.71" lengthAdjust="spacing" word-spacing="5.71" transform="translate(72.00 368.00) rotate(-90.00) scale(0.7000 1)"  xml:space="preserve">Speed and Direction</text>
<text font-family='"Liberation Sans", sans-serif' font-size="22.50" fill="#111" text-anchor="middle" textLength="62.14" lengthAdjust="spacing" word-spacing="5.71" transform="translate(101.00 368.00) rotate(-90.00) scale(0.7000 1)"  xml:space="preserve">(m/s)</text>
<text font-family='"Liberation Sans", sans-serif' font-size="20.60" fill="#fa3c3c" text-anchor="middle" textLength="95.86" lengthAdjust="spacing" word-spacing="5.71" transform="translate(48.60 530.80) rotate(-90.00) scale(0.7000 1)"  xml:space="preserve">2m Temp</text>
<text font-family='"Liberation Sans", sans-serif' font-size="20.60" fill="#e6af2d" text-anchor="middle" textLength="102.71" lengthAdjust="spacing" word-spacing="5.71" transform="translate(71.60 526.80) rotate(-90.00) scale(0.7000 1)"  xml:space="preserve">SFC Temp</text>
<text font-family='"Liberation Sans", sans-serif' font-size="20.60" fill="#00dc00" text-anchor="middle" textLength="123.00" lengthAdjust="spacing" word-spacing="5.71" transform="translate(96.00 526.70) rotate(-90.00) scale(0.7000 1)"  xml:space="preserve">dewpt Temp</text>
<text font-family='"Liberation Sans", sans-serif' font-size="22.50" fill="#111" text-anchor="middle" textLength="30.71" lengthAdjust="spacing" word-spacing="5.71" transform="translate(118.00 523.00) rotate(-90.00) scale(0.7000 1)"  xml:space="preserve">(C)</text>
<text font-family='"Liberation Sans", sans-serif' font-size="20.60" fill="#00a0ff" text-anchor="middle" textLength="128.71" lengthAdjust="spacing" word-spacing="5.71" transform="translate(25.40 677.30) rotate(-90.00) scale(0.7000 1)"  xml:space="preserve">Total Clouds</text>
<text font-family='"Liberation Sans", sans-serif' font-size="20.60" fill="#e6af2d" text-anchor="middle" textLength="117.29" lengthAdjust="spacing" word-spacing="5.71" transform="translate(72.00 677.30) rotate(-90.00) scale(0.7000 1)"  xml:space="preserve">Low Clouds</text>
<text font-family='"Liberation Sans", sans-serif' font-size="22.50" fill="#111" text-anchor="middle" textLength="45.00" lengthAdjust="spacing" word-spacing="8.00" transform="translate(118.80 677.10) rotate(-90.00) scale(0.5000 1)"  xml:space="preserve">(%)</text>
<text font-family='"Liberation Sans", sans-serif' font-size="20.60" fill="#111" text-anchor="middle" textLength="175.00" lengthAdjust="spacing" word-spacing="5.71" transform="translate(137.00 828.50) rotate(-90.00) scale(0.7000 1)"  xml:space="preserve">1hr Precip (mm)</text>
<text font-family='"Liberation Sans", sans-serif' font-size="16.40" fill="#10cf10" text-anchor="start" textLength="34.52" lengthAdjust="spacing" stroke="#fff" stroke-width="0.20" paint-order="fill stroke" transform="translate(13.40 824.00) rotate(0.03) scale(1.2600 1)"  xml:space="preserve">Total</text>
<text font-family='"Liberation Sans", sans-serif' font-size="16.40" fill="#10cf10" text-anchor="start" textLength="30.32" lengthAdjust="spacing" stroke="#fff" stroke-width="0.20" paint-order="fill stroke" transform="translate(79.00 824.00) rotate(0.03) scale(1.2600 1)"  xml:space="preserve">Rain</text>
<text font-family='"Liberation Sans", sans-serif' font-size="16.40" fill="#3550ff" text-anchor="start" textLength="65.48" lengthAdjust="spacing" stroke="#fff" stroke-width="0.20" paint-order="fill stroke" transform="translate(14.00 860.60) rotate(0.03) scale(1.2600 1)"  xml:space="preserve">Snow/1h</text>
<text font-family='"Liberation Sans", sans-serif' font-size="16.40" fill="#3550ff" text-anchor="start" textLength="35.16" lengthAdjust="spacing" stroke="#fff" stroke-width="0.20" paint-order="fill stroke" transform="translate(52.30 888.20) rotate(0.03) scale(1.2600 1)"  xml:space="preserve">[cm]</text>
<path d="M136 306L132 312M136 306L140 312M136 315V321M125 327.6H133M137 327.6H145.5M136 333V339.5M114 327.6L121 324M114 327.6L121 331M157 327.6L149.5 324M157 327.6L149.5 331M136 348L132 343M136 348L140 343" stroke="#a85cf2" stroke-width="0.9" fill="none" stroke-linecap="round"/>
<text font-family='"Liberation Sans", sans-serif' font-size="9.60" fill="#b877f5" text-anchor="middle" textLength="8.60" lengthAdjust="spacingAndGlyphs" transform="translate(136.00 298.80) rotate(0.03)"  xml:space="preserve">N</text>
<text font-family='"Liberation Sans", sans-serif' font-size="9.60" fill="#b877f5" text-anchor="middle" textLength="10.00" lengthAdjust="spacingAndGlyphs" transform="translate(98.00 331.00) rotate(0.03)"  xml:space="preserve">W</text>
<text font-family='"Liberation Sans", sans-serif' font-size="9.60" fill="#b877f5" text-anchor="middle" textLength="7.50" lengthAdjust="spacingAndGlyphs" transform="translate(171.80 331.00) rotate(0.03)"  xml:space="preserve">E</text>
<text font-family='"Liberation Sans", sans-serif' font-size="9.60" fill="#b877f5" text-anchor="middle" textLength="8.00" lengthAdjust="spacingAndGlyphs" transform="translate(136.50 358.40) rotate(0.03)"  xml:space="preserve">S</text>
</svg>
</body></html>
